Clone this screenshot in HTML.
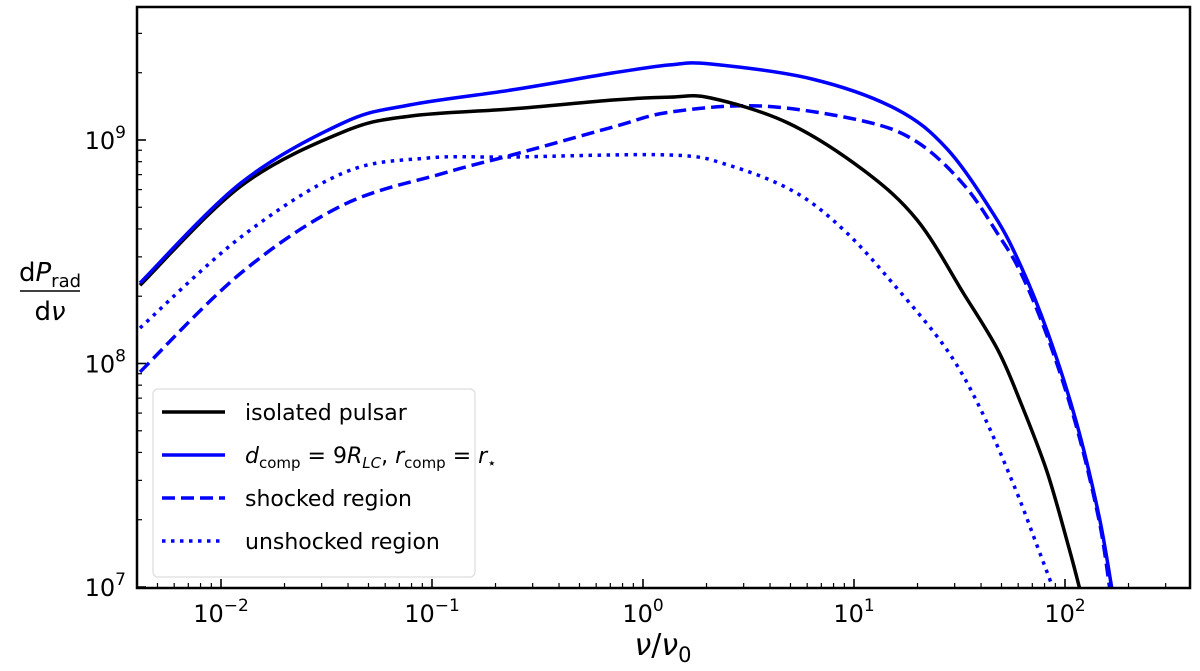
<!DOCTYPE html>
<html><head><meta charset="utf-8"><style>
body{margin:0;background:#fff;}
svg{display:block;font-family:"DejaVu Sans","Liberation Sans",sans-serif;}
</style></head><body>
<svg id="chart" width="1200" height="671" viewBox="0 0 1200 671">
<defs><clipPath id="clip"><rect x="137" y="7" width="1053" height="581"/></clipPath></defs>
<g id="ticks"></g>
<g id="series" clip-path="url(#clip)"></g>
<rect x="137" y="7" width="1053" height="581" fill="none" stroke="#000" stroke-width="2.5"/>
<g>
<rect x="153" y="389" width="322" height="188" rx="5" fill="#fff" fill-opacity="0.85" stroke="#ddd" stroke-width="1.2"/>
<line x1="162" y1="412" x2="225" y2="412" stroke="#000" stroke-width="3.5"/>
<text x="245" y="420" font-size="22">isolated pulsar</text>
<line x1="162" y1="455" x2="225" y2="455" stroke="#0000ff" stroke-width="3.5"/>
<text x="245" y="463" font-size="22"><tspan font-style="italic">d</tspan><tspan font-size="15" dy="5">comp</tspan><tspan dy="-5"> = 9</tspan><tspan font-style="italic">R</tspan><tspan font-size="15" font-style="italic" dy="5">LC</tspan><tspan dy="-5">, </tspan><tspan font-style="italic">r</tspan><tspan font-size="15" dy="5">comp</tspan><tspan dy="-5"> = </tspan><tspan font-style="italic">r</tspan><tspan font-size="15" dy="5">⋆</tspan></text>
<line x1="162" y1="498" x2="225" y2="498" stroke="#0000ff" stroke-width="3.5" stroke-dasharray="13,6"/>
<text x="245" y="506" font-size="22">shocked region</text>
<line x1="162" y1="541" x2="225" y2="541" stroke="#0000ff" stroke-width="3.5" stroke-dasharray="3.5,5.5"/>
<text x="245" y="549" font-size="22">unshocked region</text>
</g>
<text x="663" y="655" font-size="30" text-anchor="middle"><tspan font-style="italic">ν</tspan>/<tspan font-style="italic">ν</tspan><tspan font-size="21" dy="7">0</tspan></text>
<g>
<text x="50" y="281" font-size="26" text-anchor="middle">d<tspan font-style="italic">P</tspan><tspan font-size="18" dy="6">rad</tspan></text>
<line x1="20" y1="291" x2="80" y2="291" stroke="#000" stroke-width="1.6"/>
<text x="50" y="320" font-size="26" text-anchor="middle">d<tspan font-style="italic">ν</tspan></text>
</g>
</svg>
<script>
const xTickExps = [-2, -1, 0, 1, 2];
const yTickExps = [7, 8, 9];
// log10 values
const isolatedLogX = [-2.384,-1.905,-1.422,-1.104,-0.621,-0.142,0.128,0.322,0.687,1.043,1.299,1.521,1.682,1.791,1.915,2.019,2.071];
const isolatedLogY = [8.350,8.794,9.036,9.107,9.139,9.179,9.192,9.188,9.076,8.866,8.642,8.311,8.060,7.823,7.515,7.174,6.987];
const companionLogX = [-2.384,-1.905,-1.422,-1.104,-0.621,-0.142,0.128,0.322,0.801,1.199,1.441,1.664,1.791,1.919,2.052,2.161,2.223];
const companionLogY = [8.360,8.808,9.076,9.157,9.224,9.300,9.336,9.340,9.273,9.139,8.960,8.664,8.436,8.136,7.743,7.318,6.987];
const shockedLogX = [-2.384,-1.905,-1.422,-0.943,-0.621,-0.142,0.128,0.559,1.043,1.299,1.521,1.682,1.791,1.919,2.052,2.161,2.213];
const shockedLogY = [7.962,8.405,8.709,8.852,8.933,9.058,9.125,9.152,9.085,8.991,8.799,8.579,8.405,8.114,7.725,7.300,6.987];
const unshockedLogX = [-2.384,-1.905,-1.422,-1.024,-0.621,0.128,0.403,0.720,0.962,1.199,1.441,1.602,1.763,1.872,1.938];
const unshockedLogY = [8.159,8.566,8.852,8.919,8.924,8.933,8.888,8.767,8.588,8.342,8.060,7.792,7.443,7.174,7.009];

const NS = "http://www.w3.org/2000/svg";
const X0 = 643, XD = 211, Y9 = 140, YD = 223.5;
const L = 137, R = 1190, T = 7, B = 588;
function xs(lx){ return X0 + XD*lx; }
function ys(ly){ return Y9 + YD*(9-ly); }
function mk(tag, attrs, parent){ const e=document.createElementNS(NS,tag); for(const k in attrs) e.setAttribute(k,attrs[k]); parent.appendChild(e); return e; }
const tg = document.getElementById('ticks');
for (let d=-3; d<=2; d++){
  for (let m=1; m<=9; m++){
    const px = xs(d + Math.log10(m));
    if (px < L || px > R) continue;
    const len = m===1 ? 9 : 5;
    const t = mk('line',{x1:px,x2:px,y1:B,y2:B-len,stroke:'#000','stroke-width':m===1?1.6:1.2},tg);
    
    
  }
}
xTickExps.forEach(e=>{
  const t = mk('text',{x:xs(e),y:622,'font-size':24,'text-anchor':'middle'},tg);
  
  
  t.innerHTML = '10<tspan font-size="17" dy="-11">'+(e<0?'−'+(-e):e)+'</tspan>';
});
for (let d=6; d<=9; d++){
  for (let m=1; m<=9; m++){
    const py = ys(d + Math.log10(m));
    if (py < T || py > B) continue;
    const len = m===1 ? 9 : 5;
    const t = mk('line',{x1:L,x2:L+len,y1:py,y2:py,stroke:'#000','stroke-width':m===1?1.6:1.2},tg);
    
    
  }
}
yTickExps.forEach(e=>{
  const t = mk('text',{x:126,y:ys(e)+9,'font-size':24,'text-anchor':'end'},tg);
  
  
  t.innerHTML = '10<tspan font-size="17" dy="-11">'+e+'</tspan>';
});
const sg = document.getElementById('series');
function smoothPath(pts){
  let d = 'M'+pts[0][0].toFixed(1)+','+pts[0][1].toFixed(1);
  for (let i=0;i<pts.length-1;i++){
    const p0=pts[Math.max(0,i-1)], p1=pts[i], p2=pts[i+1], p3=pts[Math.min(pts.length-1,i+2)];
    const c1=[p1[0]+(p2[0]-p0[0])/6, p1[1]+(p2[1]-p0[1])/6];
    const c2=[p2[0]-(p3[0]-p1[0])/6, p2[1]-(p3[1]-p1[1])/6];
    d += ' C'+c1[0].toFixed(1)+','+c1[1].toFixed(1)+' '+c2[0].toFixed(1)+','+c2[1].toFixed(1)+' '+p2[0].toFixed(1)+','+p2[1].toFixed(1);
  }
  return d;
}
function line(xa, ya, color, dash, name){
  const pts = xa.map((v,i)=>[xs(v), ys(ya[i])]);
  const p = mk('path',{d:smoothPath(pts),fill:'none',stroke:color,'stroke-width':3.5,'stroke-linejoin':'round'},sg);
  if (dash) p.setAttribute('stroke-dasharray', dash);
  
  
}
line(unshockedLogX, unshockedLogY, '#0000ff', '3.5,5.5', 'unshocked-region-line');
line(shockedLogX, shockedLogY, '#0000ff', '13,6', 'shocked-region-line');
line(isolatedLogX, isolatedLogY, '#000', null, 'isolated-pulsar-line');
line(companionLogX, companionLogY, '#0000ff', null, 'companion-line');
</script>
</body></html>
